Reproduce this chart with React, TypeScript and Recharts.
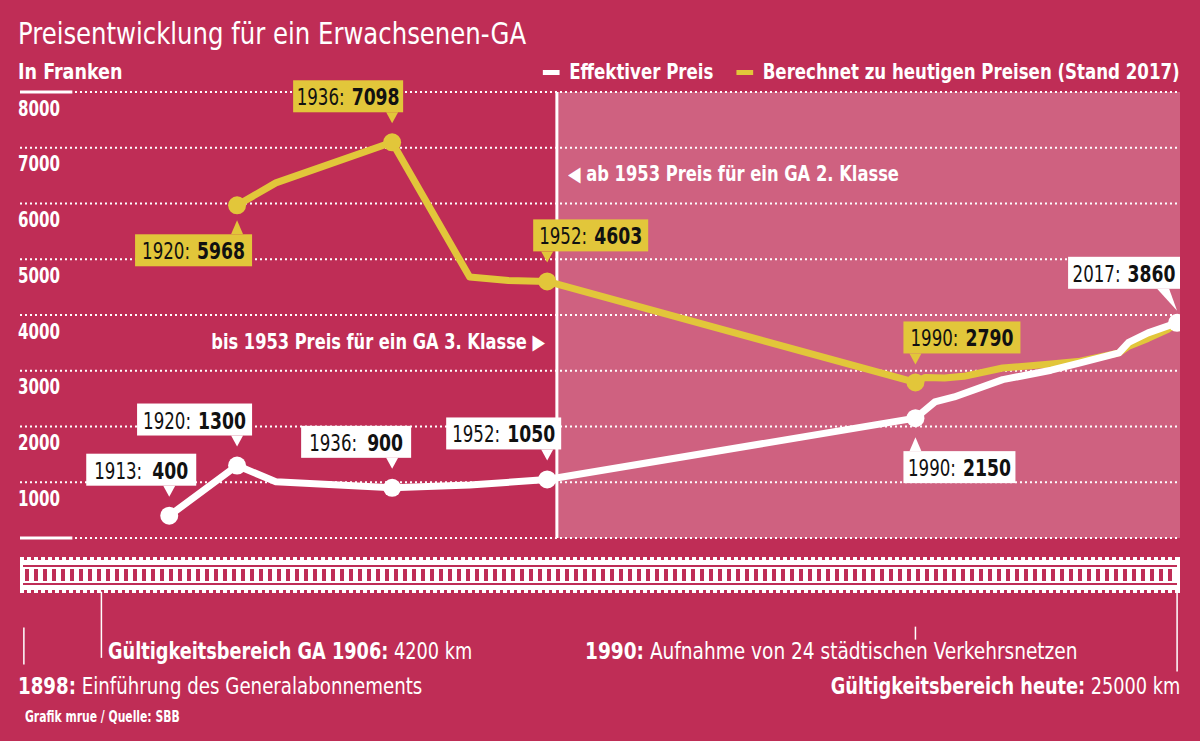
import React from 'react';
import { LineChart, Line, XAxis, YAxis, ReferenceArea, ReferenceLine } from 'recharts';

// Effektiver Preis (CHF)
const effYears = [1913, 1920, 1924, 1936, 1944, 1952, 1990, 1992, 1994, 1999, 2004, 2007, 2011, 2012, 2014, 2017];
const effValues = [400, 1300, 1010, 900, 950, 1050, 2150, 2440, 2530, 2840, 3010, 3140, 3320, 3510, 3680, 3860];

// Berechnet zu heutigen Preisen (Stand 2017)
const calcYears = [1920, 1924, 1936, 1944, 1948, 1952, 1990, 1991, 1993, 1995, 1999, 2004, 2007, 2011, 2012, 2014, 2016, 2017];
const calcValues = [5968, 6370, 7098, 4680, 4620, 4603, 2790, 2880, 2870, 2900, 3050, 3120, 3170, 3320, 3440, 3580, 3740, 3860];

const effLabelled = [1913, 1920, 1936, 1952, 1990, 2017];
const calcLabelled = [1920, 1936, 1952, 1990];

const yTicks = [1000, 2000, 3000, 4000, 5000, 6000, 7000, 8000];
const gridValues = [0, 1000, 2000, 3000, 4000, 5000, 6000, 7000, 8000];
const xTicks = [1900, 1910, 1920, 1930, 1940, 1950, 1960, 1970, 1980, 1990, 2000, 2010];

const BG = '#bf2d56';
const SHADE = 'rgba(255,255,255,0.25)';
const YELLOW = '#e2c63a';
const FONT = '"Liberation Sans Narrow", "DejaVu Sans Condensed", "Roboto Condensed", "Arial Narrow", sans-serif';
const X_DOMAIN = [1897.6, 2017.3];

const effData = effYears.map((year, i) => ({ year, price: effValues[i] }));
const calcData = calcYears.map((year, i) => ({ year, price: calcValues[i] }));

// callout box placement relative to the point (style only)
const callouts: Record<string, { dx: number; dy: number; w: number; dir: string }> = {
  'eff-1913': { dx: -83, dy: -62, w: 110, dir: 'down' },
  'eff-1920': { dx: -100, dy: -62, w: 115, dir: 'down' },
  'eff-1936': { dx: -91, dy: -62, w: 110, dir: 'down' },
  'eff-1952': { dx: -101, dy: -62, w: 115, dir: 'down' },
  'eff-1990': { dx: -12, dy: 33, w: 112, dir: 'up' },
  'eff-2017': { dx: -109, dy: -66, w: 112, dir: 'diag' },
  'calc-1920': { dx: -102, dy: 29, w: 117, dir: 'up' },
  'calc-1936': { dx: -99, dy: -62, w: 110, dir: 'down' },
  'calc-1952': { dx: -14, dy: -62, w: 115, dir: 'down' },
  'calc-1990': { dx: -12, dy: -61, w: 117, dir: 'down' },
};

const makeDot = (series: string, labelled: number[], fill: string) => (props: any) => {
  const { cx, cy, payload } = props;
  const key = `${series}-${payload.year}`;
  if (!labelled.includes(payload.year)) return <g key={key} />;
  const c = callouts[key];
  const bx = cx + c.dx;
  const by = cy + c.dy;
  const h = 32;
  let pointer = '';
  if (c.dir === 'down') pointer = `${cx - 6},${by + h} ${cx + 6},${by + h} ${cx},${by + h + 11}`;
  if (c.dir === 'up') pointer = `${cx - 6},${by} ${cx + 6},${by} ${cx},${by - 14}`;
  if (c.dir === 'diag') pointer = `${cx - 20},${by + h} ${cx - 8},${by + h} ${cx},${cy - 12}`;
  const valueText = String(payload.price);
  const yearW = 48;
  const gap = valueText.length < 4 ? 10 : 7;
  const valueW = valueText.length * 12;
  const total = yearW + gap + valueW;
  const tx = bx + (c.w - total) / 2;
  const ty = by + h / 2 + 1;
  return (
    <g key={key}>
      <circle cx={cx} cy={cy} r={9} fill={fill} />
      <rect x={bx} y={by} width={c.w} height={h} fill={fill} />
      <polygon points={pointer} fill={fill} />
      <text x={tx} y={ty} textAnchor="start" dominantBaseline="central" fontFamily={FONT} fontSize={23}
        fill="#111" textLength={yearW} lengthAdjust="spacingAndGlyphs">{`${payload.year}:`}</text>
      <text x={tx + yearW + gap} y={ty} textAnchor="start" dominantBaseline="central" fontFamily={FONT}
        fontSize={23} fontWeight="bold" fill="#111" textLength={valueW} lengthAdjust="spacingAndGlyphs">
        {valueText}
      </text>
    </g>
  );
};

const YearTick = (props: any) => {
  const { x, y, payload } = props;
  return (
    <text x={x} y={y + 74} textAnchor="middle" dominantBaseline="central" fontFamily={FONT}
      fontWeight="bold" fontSize={22} fill="#fff" transform={`translate(${x},0) scale(0.92,1) translate(${-x},0)`}>
      {payload.value}
    </text>
  );
};

const GridLabel = (props: any) => {
  const { viewBox, value } = props;
  if (!viewBox) return null;
  return (
    <text x={viewBox.x - 2} y={viewBox.y + 16} textAnchor="start" dominantBaseline="central"
      fontFamily={FONT} fontWeight="bold" fontSize={22} fill="#fff" textLength={42}
      lengthAdjust="spacingAndGlyphs">{value}</text>
  );
};

const Track = () => (
  <svg width={1160} height={36} style={{ position: 'absolute', left: 20, top: 557 }}>
    <defs>
      <pattern id="teeth" width="7" height="3" patternUnits="userSpaceOnUse">
        <rect x="0" y="0" width="4" height="3" fill="#fff" />
      </pattern>
      <pattern id="sleepers" width="9" height="12" patternUnits="userSpaceOnUse">
        <rect x="0" y="0" width="5" height="12" fill="#fff" />
      </pattern>
    </defs>
    <rect x={0} y={0} width={1160} height={3} fill="url(#teeth)" />
    <rect x={0} y={3} width={1160} height={5} fill="#fff" />
    <rect x={0} y={10} width={1160} height={2} fill="#fff" />
    <rect x={0} y={12} width={1160} height={12} fill="url(#sleepers)" />
    <rect x={0} y={24} width={1160} height={2} fill="#fff" />
    <rect x={0} y={28} width={1160} height={5} fill="#fff" />
    <rect x={0} y={33} width={1160} height={3} fill="url(#teeth)" />
    <rect x={0} y={0} width={3} height={36} fill="#fff" />
    <rect x={1157} y={0} width={3} height={36} fill="#fff" />
  </svg>
);

type TxtProps = { left?: number; right?: number; top: number; size: number; k: number; bold?: boolean; children: React.ReactNode };
const Txt = ({ left, right, top, size, k, bold, children }: TxtProps) => (
  <div style={{
    position: 'absolute', left, right, top, color: '#fff', fontFamily: FONT, whiteSpace: 'nowrap', lineHeight: 1,
    fontSize: size, fontWeight: bold ? 'bold' : 'normal', display: 'flex', alignItems: 'center',
    transform: `scaleX(${k})`, transformOrigin: right !== undefined ? 'right top' : 'left top',
  }}>{children}</div>
);

const App = () => {
  return (
    <div style={{ position: 'absolute', left: 0, top: 0, width: 1200, height: 741, background: BG, overflow: 'hidden' }}>
      <Txt left={18} top={18} size={31} k={0.874}>Preisentwicklung für ein Erwachsenen-GA</Txt>
      <Txt left={18} top={62} size={21} k={0.93} bold>In Franken</Txt>
      <Txt right={20} top={62} size={21} k={0.88} bold>
        <span style={{ display: 'inline-block', width: 19, height: 5, background: '#fff', marginRight: 11 }} />
        <span>Effektiver Preis</span>
        <span style={{ display: 'inline-block', width: 19, height: 5, background: YELLOW, marginLeft: 26, marginRight: 11 }} />
        <span>Berechnet zu heutigen Preisen (Stand 2017)</span>
      </Txt>

      <LineChart width={1200} height={741} margin={{ top: 92, right: 20, bottom: 203, left: 20 }}
        style={{ position: 'absolute', left: 0, top: 0 }}>
        <XAxis type="number" dataKey="year" domain={X_DOMAIN} allowDataOverflow ticks={xTicks}
          height={0} tickSize={0} tickMargin={0} axisLine={false} tickLine={false} tick={<YearTick />} />
        <YAxis type="number" domain={[0, 8000]} ticks={yTicks} width={0} hide />
        <ReferenceArea x1={1953} x2={X_DOMAIN[1]} y1={0} y2={8000} fill={SHADE} fillOpacity={1} stroke="none" />
        {gridValues.map((v) => (
          <ReferenceLine key={`g${v}`} y={v} stroke="#fff" strokeWidth={2} strokeDasharray="2 3"
            label={yTicks.includes(v) ? <GridLabel value={v} /> : undefined} />
        ))}
        {[0, 8000].map((v) => (
          <ReferenceLine key={`s${v}`} segment={[{ x: X_DOMAIN[0], y: v }, { x: 1903, y: v }]}
            stroke="#fff" strokeWidth={3} />
        ))}
        <ReferenceLine x={1953} stroke="#fff" strokeWidth={3} />
        <ReferenceLine segment={[{ x: 1906, y: -962 }, { x: 1906, y: -2150 }]} ifOverflow="visible" stroke="#fff" strokeWidth={1.5} />
        <ReferenceLine segment={[{ x: 1898, y: -1606 }, { x: 1898, y: -2270 }]} ifOverflow="visible" stroke="#fff" strokeWidth={1.5} />
        <ReferenceLine segment={[{ x: 1990, y: -1590 }, { x: 1990, y: -1823 }]} ifOverflow="visible" stroke="#fff" strokeWidth={1.5} />
        <ReferenceLine segment={[{ x: 2017, y: -962 }, { x: 2017, y: -2395 }]} ifOverflow="visible" stroke="#fff" strokeWidth={1.5} />
        <Line data={calcData} dataKey="price" type="linear" stroke={YELLOW} strokeWidth={7}
          strokeLinejoin="round" dot={makeDot('calc', calcLabelled, YELLOW)} activeDot={false}
          isAnimationActive={false} />
        <Line data={effData} dataKey="price" type="linear" stroke="#fff" strokeWidth={7}
          strokeLinejoin="round" dot={makeDot('eff', effLabelled, '#fff')} activeDot={false}
          isAnimationActive={false} />
      </LineChart>

      <Txt left={568} top={164} size={21} k={0.864} bold>◀ ab 1953 Preis für ein GA 2. Klasse</Txt>
      <Txt right={655} top={332} size={21} k={0.86} bold>bis 1953 Preis für ein GA 3. Klasse ▶</Txt>

      <Track />

      <Txt left={108} top={640} size={23} k={0.856}><b>Gültigkeitsbereich GA 1906:</b>&nbsp;4200 km</Txt>
      <Txt left={585} top={640} size={23} k={0.896}><b>1990:</b>&nbsp;Aufnahme von 24 städtischen Verkehrsnetzen</Txt>
      <Txt left={18} top={675} size={23} k={0.88}><b>1898:</b>&nbsp;Einführung des Generalabonnements</Txt>
      <Txt right={20} top={675} size={23} k={0.856}><b>Gültigkeitsbereich heute:</b>&nbsp;25000 km</Txt>
      <Txt left={25} top={710} size={15} k={0.8} bold>Grafik mrue / Quelle: SBB</Txt>
    </div>
  );
};

export default App;
